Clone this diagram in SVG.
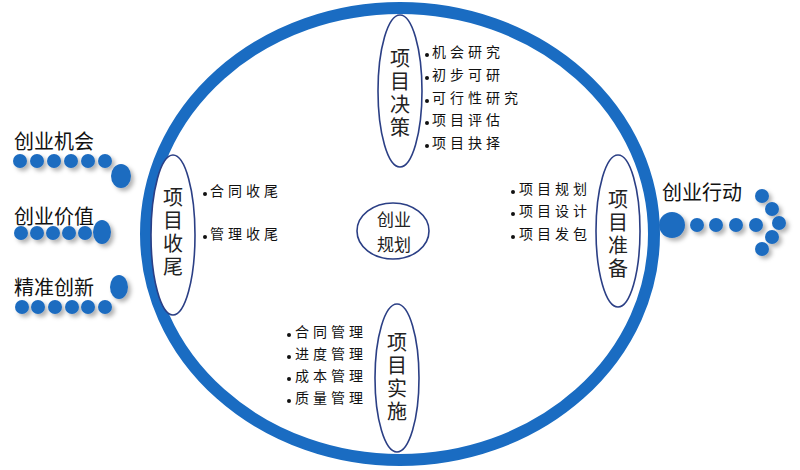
<svg xmlns="http://www.w3.org/2000/svg" width="800" height="470" viewBox="0 0 800 470">
<defs>
<filter id="sh" x="-50%" y="-50%" width="200%" height="200%">
<feDropShadow dx="3" dy="3" stdDeviation="2" flood-color="#000" flood-opacity="0.3"/>
</filter>
</defs>
<style>
.ring{fill:#fff;stroke:#1a6cc2;stroke-width:12}
.node{fill:#fff;stroke:#2b3f85;stroke-width:1.6}
.vt{font-family:"Noto Sans CJK SC","Noto Sans",sans-serif;font-size:20px;fill:#222;text-anchor:middle;writing-mode:vertical-rl;letter-spacing:3px}
.ct{font-family:"Noto Sans CJK SC","Noto Sans",sans-serif;font-size:17px;fill:#222;text-anchor:middle}
.li{font-family:"Noto Sans CJK SC","Noto Sans",sans-serif;font-size:14px;fill:#111;letter-spacing:4px}
.lb{font-family:"Noto Sans CJK SC","Noto Sans",sans-serif;font-size:20px;fill:#111}
.b{fill:#1e6cc0}
.dot{fill:#111}
</style>
<rect width="800" height="470" fill="#fff"/>
<ellipse class="ring" cx="400" cy="234" rx="254" ry="226"/>

<g id="arrows">
 <g id="arrow-jihui" filter="url(#sh)">
  <circle class="b" cx="20" cy="161" r="7"/><circle class="b" cx="37" cy="161" r="7"/><circle class="b" cx="54" cy="161" r="7"/>
  <circle class="b" cx="71" cy="161" r="7"/><circle class="b" cx="88" cy="161" r="7"/><circle class="b" cx="105" cy="161" r="7"/>
  <ellipse class="b" cx="121" cy="176" rx="10" ry="12"/>
 </g>
 <g id="arrow-jiazhi" filter="url(#sh)">
  <circle class="b" cx="21" cy="233" r="7"/><circle class="b" cx="37" cy="233" r="7"/><circle class="b" cx="53" cy="233" r="7"/>
  <circle class="b" cx="69" cy="233" r="7"/><circle class="b" cx="85" cy="233" r="7"/>
  <ellipse class="b" cx="102" cy="232" rx="9" ry="12"/>
 </g>
 <g id="arrow-chuangxin" filter="url(#sh)">
  <ellipse class="b" cx="119" cy="287" rx="9" ry="12"/>
  <circle class="b" cx="22" cy="307" r="7"/><circle class="b" cx="38" cy="307" r="7"/><circle class="b" cx="55" cy="307" r="7"/>
  <circle class="b" cx="72" cy="307" r="7"/><circle class="b" cx="88" cy="307" r="7"/><circle class="b" cx="105" cy="307" r="7"/>
 </g>
 <g id="arrow-xingdong" filter="url(#sh)">
  <circle class="b" cx="672" cy="225" r="13"/>
  <circle class="b" cx="697" cy="225" r="7"/><circle class="b" cx="716" cy="225" r="7"/><circle class="b" cx="736" cy="225" r="7"/><circle class="b" cx="756" cy="225" r="7"/>
  <circle class="b" cx="762" cy="196" r="7"/><circle class="b" cx="772" cy="209" r="7"/><circle class="b" cx="779" cy="223" r="7"/>
  <circle class="b" cx="772" cy="237" r="7"/><circle class="b" cx="762" cy="249" r="7"/>
 </g>
</g>

<g id="label-jihui"><text class="lb" x="14" y="149">创业机会</text></g>
<g id="label-jiazhi"><text class="lb" x="14" y="224">创业价值</text></g>
<g id="label-chuangxin"><text class="lb" x="14" y="295">精准创新</text></g>
<g id="label-xingdong"><text class="lb" x="662" y="200">创业行动</text></g>

<g id="node-center">
 <ellipse class="node" cx="393" cy="231" rx="36" ry="28"/>
 <text class="ct" x="394" y="226">创业<tspan x="394" y="251">规划</tspan></text>
</g>

<g id="node-juece">
 <ellipse class="node" cx="400" cy="91" rx="22" ry="76"/>
 <text class="vt" x="400" y="94">项目决策</text>
</g>
<g id="list-juece">
 <circle class="dot" cx="427" cy="55" r="2"/><text class="li" x="432" y="57">机会研究</text>
 <circle class="dot" cx="427" cy="78" r="2"/><text class="li" x="432" y="80">初步可研</text>
 <circle class="dot" cx="427" cy="101" r="2"/><text class="li" x="432" y="103">可行性研究</text>
 <circle class="dot" cx="427" cy="123" r="2"/><text class="li" x="432" y="125">项目评估</text>
 <circle class="dot" cx="427" cy="146" r="2"/><text class="li" x="432" y="148">项目抉择</text>
</g>

<g id="node-shouwei">
 <ellipse class="node" cx="173" cy="235" rx="22" ry="80"/>
 <text class="vt" x="173" y="233">项目收尾</text>
</g>
<g id="list-shouwei">
 <circle class="dot" cx="205" cy="194" r="2"/><text class="li" x="210" y="196">合同收尾</text>
 <circle class="dot" cx="205" cy="237" r="2"/><text class="li" x="210" y="239">管理收尾</text>
</g>

<g id="node-zhunbei">
 <ellipse class="node" cx="618" cy="231" rx="22" ry="76"/>
 <text class="vt" x="618" y="235">项目准备</text>
</g>
<g id="list-zhunbei">
 <circle class="dot" cx="513" cy="192" r="2"/><text class="li" x="519" y="194">项目规划</text>
 <circle class="dot" cx="513" cy="214" r="2"/><text class="li" x="519" y="216">项目设计</text>
 <circle class="dot" cx="513" cy="237" r="2"/><text class="li" x="519" y="239">项目发包</text>
</g>

<g id="node-shishi">
 <ellipse class="node" cx="397" cy="378" rx="22" ry="74"/>
 <text class="vt" x="397" y="378">项目实施</text>
</g>
<g id="list-shishi">
 <circle class="dot" cx="289" cy="335" r="2"/><text class="li" x="295" y="337">合同管理</text>
 <circle class="dot" cx="289" cy="357" r="2"/><text class="li" x="295" y="359">进度管理</text>
 <circle class="dot" cx="289" cy="379" r="2"/><text class="li" x="295" y="381">成本管理</text>
 <circle class="dot" cx="289" cy="401" r="2"/><text class="li" x="295" y="403">质量管理</text>
</g>
</svg>
